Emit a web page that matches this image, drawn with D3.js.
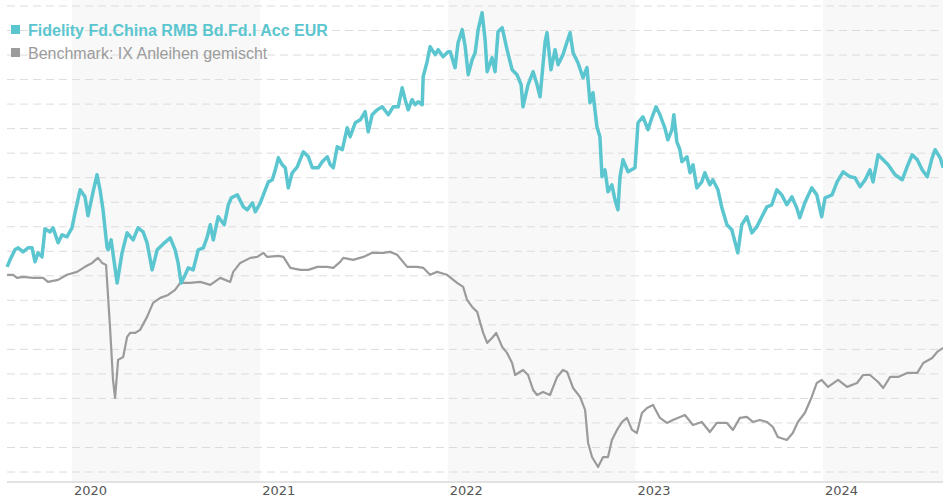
<!DOCTYPE html>
<meta charset="utf-8">
<style>
  body { margin: 0; background: #fff; }
  .grid line { stroke: #dcdcdc; stroke-width: 1; stroke-dasharray: 8,5; }
  .legend text { font: 16px "Liberation Sans", Arial, sans-serif; }
</style>
<body>
<svg id="chart" width="943" height="500"></svg>
<script src="https://d3js.org/d3.v7.min.js"></script>
<script>

  // Wertentwicklung in %, Zeit als Dezimaljahr
  const fundName = "Fidelity Fd.China RMB Bd.Fd.I Acc EUR";
  const benchName = "Benchmark: IX Anleihen gemischt";

  const fundData = [
    [2019.654, 0.73], [2019.670, 1.30], [2019.696, 2.12], [2019.713, 2.28], [2019.739, 1.95], [2019.766, 2.28],
    [2019.787, 2.28], [2019.803, 1.14], [2019.819, 1.87], [2019.840, 1.54], [2019.856, 3.83], [2019.883, 3.58],
    [2019.899, 3.91], [2019.926, 2.69], [2019.947, 3.34], [2019.973, 3.18], [2020.000, 3.91], [2020.016, 5.13],
    [2020.043, 7.01], [2020.069, 6.44], [2020.085, 4.89], [2020.112, 6.85], [2020.133, 8.24], [2020.149, 7.01],
    [2020.165, 5.38], [2020.186, 2.36], [2020.192, 2.12], [2020.208, 2.93], [2020.224, 1.14], [2020.240, -0.58],
    [2020.266, 1.87], [2020.293, 3.50], [2020.325, 2.93], [2020.351, 3.91], [2020.378, 3.58], [2020.399, 2.69],
    [2020.426, 0.48], [2020.453, 2.12], [2020.485, 2.60], [2020.522, 3.09], [2020.548, 2.12], [2020.564, 1.05],
    [2020.580, -0.58], [2020.602, 0.08], [2020.618, 0.65], [2020.644, 0.48], [2020.671, 2.12], [2020.698, 2.28],
    [2020.719, 3.18], [2020.735, 4.16], [2020.751, 2.93], [2020.777, 4.81], [2020.809, 4.16], [2020.831, 5.79],
    [2020.847, 6.36], [2020.879, 6.60], [2020.911, 5.62], [2020.932, 5.38], [2020.959, 5.95], [2020.974, 5.22],
    [2021.001, 5.95], [2021.017, 6.60], [2021.044, 7.66], [2021.065, 7.83], [2021.081, 8.64], [2021.097, 9.62],
    [2021.118, 9.05], [2021.134, 8.81], [2021.150, 7.17], [2021.171, 8.40], [2021.198, 8.89], [2021.230, 10.11],
    [2021.257, 9.70], [2021.278, 8.81], [2021.310, 8.81], [2021.331, 9.30], [2021.358, 9.70], [2021.374, 9.05],
    [2021.390, 8.81], [2021.411, 10.52], [2021.438, 10.28], [2021.464, 12.07], [2021.480, 11.34], [2021.507, 12.48],
    [2021.534, 12.72], [2021.560, 13.38], [2021.576, 11.74], [2021.597, 13.13], [2021.624, 13.54], [2021.651, 13.78],
    [2021.683, 13.13], [2021.709, 13.78], [2021.736, 13.78], [2021.757, 15.33], [2021.773, 14.36], [2021.789, 13.54],
    [2021.810, 14.36], [2021.826, 13.95], [2021.842, 14.19], [2021.864, 13.95], [2021.869, 16.23], [2021.890, 17.46],
    [2021.906, 18.68], [2021.933, 18.03], [2021.949, 18.44], [2021.975, 17.86], [2022.002, 18.27], [2022.013, 18.27],
    [2022.039, 16.97], [2022.055, 19.01], [2022.077, 20.07], [2022.093, 18.68], [2022.109, 16.40], [2022.130, 17.62],
    [2022.146, 18.19], [2022.162, 20.07], [2022.183, 21.45], [2022.199, 19.25], [2022.210, 16.64], [2022.236, 17.78],
    [2022.252, 16.64], [2022.268, 19.90], [2022.290, 20.23], [2022.316, 18.44], [2022.343, 16.80], [2022.369, 16.40],
    [2022.391, 15.58], [2022.401, 13.78], [2022.428, 15.58], [2022.455, 16.64], [2022.476, 15.58], [2022.492, 14.60],
    [2022.519, 19.09], [2022.529, 19.82], [2022.550, 16.80], [2022.572, 18.44], [2022.588, 17.21], [2022.614, 18.03],
    [2022.636, 19.09], [2022.652, 19.82], [2022.668, 18.19], [2022.694, 17.37], [2022.721, 16.15], [2022.742, 16.97],
    [2022.758, 14.11], [2022.774, 14.93], [2022.795, 12.15], [2022.811, 11.34], [2022.822, 8.07], [2022.838, 8.64],
    [2022.854, 6.85], [2022.875, 7.42], [2022.891, 6.20], [2022.907, 5.38], [2022.918, 8.07], [2022.934, 9.46],
    [2022.961, 8.48], [2022.998, 8.81], [2023.014, 12.48], [2023.040, 12.97], [2023.067, 11.91], [2023.088, 12.89],
    [2023.110, 13.78], [2023.131, 13.13], [2023.157, 12.07], [2023.173, 11.09], [2023.195, 11.91], [2023.205, 13.13],
    [2023.221, 10.93], [2023.237, 10.28], [2023.248, 9.30], [2023.275, 9.70], [2023.291, 8.40], [2023.307, 9.05],
    [2023.328, 7.17], [2023.354, 7.66], [2023.370, 8.40], [2023.397, 7.42], [2023.413, 7.83], [2023.440, 7.01],
    [2023.461, 5.54], [2023.488, 4.16], [2023.514, 3.75], [2023.546, 1.87], [2023.567, 4.16], [2023.594, 4.81],
    [2023.621, 3.50], [2023.647, 3.99], [2023.674, 4.81], [2023.701, 5.62], [2023.727, 5.79], [2023.754, 7.01],
    [2023.780, 6.60], [2023.807, 5.79], [2023.834, 6.44], [2023.860, 5.54], [2023.876, 4.73], [2023.903, 5.95],
    [2023.940, 7.17], [2023.967, 6.60], [2023.993, 4.81], [2024.011, 6.36], [2024.048, 6.60], [2024.075, 7.66],
    [2024.107, 8.48], [2024.144, 8.07], [2024.170, 7.99], [2024.197, 7.26], [2024.224, 7.83], [2024.250, 8.64],
    [2024.266, 7.66], [2024.293, 9.87], [2024.320, 9.46], [2024.346, 9.05], [2024.383, 8.24], [2024.421, 7.83],
    [2024.447, 8.89], [2024.474, 9.87], [2024.501, 9.46], [2024.527, 8.64], [2024.554, 8.07], [2024.580, 9.62],
    [2024.596, 10.28], [2024.623, 9.62], [2024.639, 8.81]
  ];

  const benchData = [
    [2019.654, 0.08], [2019.686, 0.08], [2019.707, -0.17], [2019.739, -0.09], [2019.792, -0.17], [2019.846, -0.17],
    [2019.872, -0.50], [2019.926, -0.33], [2019.973, 0.08], [2020.027, 0.32], [2020.069, 0.73], [2020.107, 1.05],
    [2020.138, 1.46], [2020.160, 1.05], [2020.181, 0.89], [2020.202, -4.17], [2020.218, -8.49], [2020.229, -9.96],
    [2020.245, -6.86], [2020.272, -6.62], [2020.293, -4.98], [2020.309, -4.66], [2020.335, -4.66], [2020.362, -4.41],
    [2020.399, -3.35], [2020.431, -2.21], [2020.469, -1.80], [2020.511, -1.56], [2020.548, -1.15], [2020.575, -0.58],
    [2020.628, -0.58], [2020.682, -0.50], [2020.735, -0.74], [2020.788, -0.17], [2020.841, -0.50], [2020.857, 0.32],
    [2020.894, 1.05], [2020.948, 1.46], [2020.985, 1.54], [2021.017, 1.87], [2021.038, 1.54], [2021.097, 1.63],
    [2021.124, 1.54], [2021.161, 0.65], [2021.214, 0.48], [2021.257, 0.48], [2021.305, 0.73], [2021.358, 0.73],
    [2021.390, 0.65], [2021.427, 1.14], [2021.443, 1.46], [2021.496, 1.30], [2021.550, 1.54], [2021.597, 1.87],
    [2021.656, 1.87], [2021.693, 1.95], [2021.730, 1.71], [2021.784, 0.73], [2021.837, 0.73], [2021.869, 0.65],
    [2021.906, 0.08], [2021.943, 0.32], [2021.996, 0.08], [2022.050, -0.58], [2022.082, -0.90], [2022.103, -1.97],
    [2022.130, -2.54], [2022.157, -2.94], [2022.173, -3.84], [2022.189, -4.66], [2022.210, -5.47], [2022.236, -5.07],
    [2022.258, -4.66], [2022.290, -5.80], [2022.316, -6.29], [2022.343, -7.11], [2022.359, -8.09], [2022.401, -7.68],
    [2022.428, -8.09], [2022.455, -9.31], [2022.476, -9.72], [2022.508, -9.47], [2022.545, -9.72], [2022.583, -8.25],
    [2022.614, -7.68], [2022.636, -7.84], [2022.668, -9.15], [2022.705, -9.88], [2022.732, -10.94], [2022.748, -13.63],
    [2022.769, -14.78], [2022.801, -15.59], [2022.828, -14.78], [2022.854, -14.78], [2022.875, -13.39], [2022.902, -12.57],
    [2022.929, -11.92], [2022.955, -11.59], [2022.982, -12.57], [2023.008, -12.82], [2023.035, -11.19], [2023.062, -10.78],
    [2023.094, -10.53], [2023.131, -11.59], [2023.168, -12.00], [2023.200, -11.76], [2023.264, -11.35], [2023.307, -12.17],
    [2023.354, -11.92], [2023.397, -12.74], [2023.434, -12.00], [2023.488, -12.00], [2023.520, -12.57], [2023.557, -11.59],
    [2023.594, -11.51], [2023.626, -11.92], [2023.663, -11.76], [2023.701, -11.92], [2023.733, -12.33], [2023.759, -13.14],
    [2023.807, -13.39], [2023.839, -12.82], [2023.866, -11.92], [2023.903, -11.19], [2023.940, -9.88], [2023.967, -8.74],
    [2023.993, -8.49], [2024.027, -9.06], [2024.080, -8.49], [2024.128, -9.06], [2024.181, -8.74], [2024.213, -8.09],
    [2024.250, -8.09], [2024.293, -8.66], [2024.320, -9.15], [2024.357, -8.25], [2024.399, -8.25], [2024.447, -7.92],
    [2024.501, -7.92], [2024.533, -7.11], [2024.580, -6.70], [2024.607, -6.21], [2024.639, -5.88]
  ];

  const gridValues = d3.range(-16, 23, 2);
  const shadedYears = [2020, 2022, 2024];
  const fundColor = "#5bc6cf";
  const benchColor = "#9b9b9b";

  function decToDate(t) {
    const y = Math.floor(t);
    const a = new Date(y, 0, 1), b = new Date(y + 1, 0, 1);
    return new Date(+a + (t - y) * (b - a));
  }

  var svg = d3.select("svg#chart"),
    left = 5, right = 943, bottom = 482;

  const x = d3.scaleTime()
    .domain([new Date(2020, 0, 1), new Date(2024, 0, 1)])
    .range([72, 823]);

  const y = d3.scaleLinear()
    .domain([-16, 22])
    .range([472, 6]);

  svg.append("clipPath").attr("id", "plotClip")
    .append("rect").attr("x", left).attr("y", 0).attr("width", right - left).attr("height", bottom);

  // Jahresbaender
  svg.append("g").attr("clip-path", "url(#plotClip)")
    .selectAll("rect")
    .data(shadedYears)
    .enter().append("rect")
    .attr("x", d => x(new Date(d, 0, 1)))
    .attr("width", d => x(new Date(d + 1, 0, 1)) - x(new Date(d, 0, 1)))
    .attr("y", 0)
    .attr("height", bottom)
    .attr("fill", "#f8f8f8");

  svg.append("g").attr("class", "grid")
    .selectAll("line")
    .data(gridValues)
    .enter().append("line")
    .attr("x1", left + 2).attr("x2", right)
    .attr("y1", d => y(d)).attr("y2", d => y(d));

  const line = d3.line()
    .x(d => x(decToDate(d[0])))
    .y(d => y(d[1]));

  const lines = svg.append("g").attr("clip-path", "url(#plotClip)");

  lines.append("path")
    .datum(benchData)
    .attr("d", line)
    .attr("fill", "none")
    .attr("stroke", benchColor)
    .attr("stroke-width", 2.2)
    .attr("stroke-linejoin", "round");

  lines.append("path")
    .datum(fundData)
    .attr("d", line)
    .attr("fill", "none")
    .attr("stroke", fundColor)
    .attr("stroke-width", 3.5)
    .attr("stroke-linejoin", "round");

  // x-Achse
  const xAxis = svg.append("g")
    .attr("transform", `translate(0,${bottom})`)
    .call(d3.axisBottom(x)
      .ticks(d3.timeYear.every(1))
      .tickFormat(d3.timeFormat("%Y"))
      .tickSize(0));
  xAxis.select(".domain").remove();
  xAxis.append("line")
    .attr("x1", left + 2).attr("x2", right)
    .attr("stroke", "#e2e2e2").attr("stroke-width", 2);
  xAxis.selectAll("text")
    .attr("text-anchor", "start")
    .attr("x", 1.5)
    .attr("y", 13)
    .attr("dy", 0)
    .attr("fill", "#555")
    .style("font", "13px 'DejaVu Sans', sans-serif");

  // Legende
  const legend = svg.append("g").attr("class", "legend");
  [[fundName, fundColor, "bold", 36], [benchName, benchColor, "normal", 59]].forEach(([name, color, weight, base]) => {
    legend.append("rect")
      .attr("x", 11).attr("y", base - 11).attr("width", 9).attr("height", 9)
      .attr("fill", color);
    legend.append("text")
      .attr("x", 28).attr("y", base)
      .attr("fill", color)
      .style("font-weight", weight)
      .text(name);
  });

</script>
</body>
